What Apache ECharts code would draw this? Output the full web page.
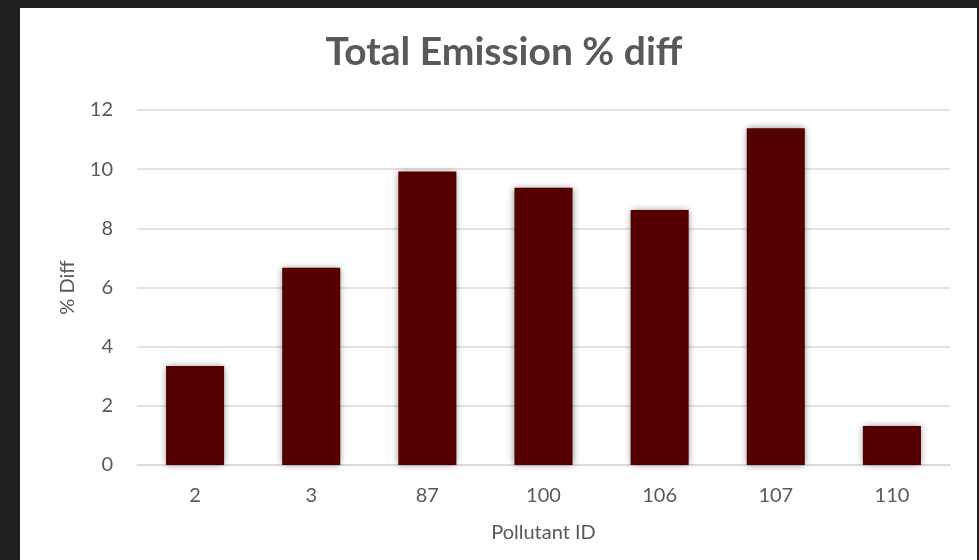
<!DOCTYPE html>
<html>
<head>
<meta charset="utf-8">
<script src="https://cdn.jsdelivr.net/npm/echarts@6/dist/echarts.min.js"></script>
<style>
  html, body { margin: 0; padding: 0; background: #1f1f1f; }
  #chart { width: 979px; height: 560px; }
</style>
</head>
<body>
<div id="chart"></div>
<script>
// Percentage difference in total emissions per pollutant
const pollutantIds = ['2', '3', '87', '100', '106', '107', '110'];
const pctDiff = [3.35, 6.67, 9.92, 9.37, 8.62, 11.38, 1.32];
const yTicks = { min: 0, max: 12, step: 2 };

const chart = echarts.init(document.getElementById('chart'), null, { renderer: 'canvas' });
const FONT = 'Lato, "Open Sans", sans-serif';

chart.setOption({
  backgroundColor: '#1f1f1f',
  animation: false,
  graphic: [{
    type: 'rect',
    z: -10,
    shape: { x: 20, y: 8, width: 957, height: 560 },
    style: { fill: '#ffffff' }
  }],
  title: {
    text: 'Total Emission % diff',
    left: 499,
    textAlign: 'center',
    top: 28,
    textStyle: { fontFamily: FONT, fontWeight: 'bold', fontSize: 39, color: '#595959' }
  },
  grid: { left: 137, right: 29, top: 110, bottom: 95 },
  xAxis: {
    type: 'category',
    data: pollutantIds,
    name: 'Pollutant ID',
    nameLocation: 'middle',
    nameGap: 58,
    nameTextStyle: { fontFamily: FONT, fontSize: 20, color: '#595959' },
    axisLine: { show: true, lineStyle: { color: '#d9d9d9', width: 1.5 } },
    axisTick: { show: false },
    axisLabel: { fontFamily: FONT, fontSize: 20, color: '#595959', margin: 21 }
  },
  yAxis: {
    type: 'value',
    min: yTicks.min,
    max: yTicks.max,
    interval: yTicks.step,
    name: '% Diff',
    nameLocation: 'middle',
    nameGap: 59,
    nameTextStyle: { fontFamily: FONT, fontSize: 20, color: '#595959' },
    axisLine: { show: false },
    axisTick: { show: false },
    axisLabel: { fontFamily: FONT, fontSize: 20, color: '#595959', margin: 24 },
    splitLine: { lineStyle: { color: '#d9d9d9', width: 1.5 } }
  },
  series: [{
    type: 'bar',
    data: pctDiff,
    barWidth: '50%',
    itemStyle: {
      color: '#550000',
      shadowColor: 'rgba(0,0,0,0.45)',
      shadowBlur: 7,
      shadowOffsetX: 0,
      shadowOffsetY: 0
    }
  }]
});
</script>
</body>
</html>
